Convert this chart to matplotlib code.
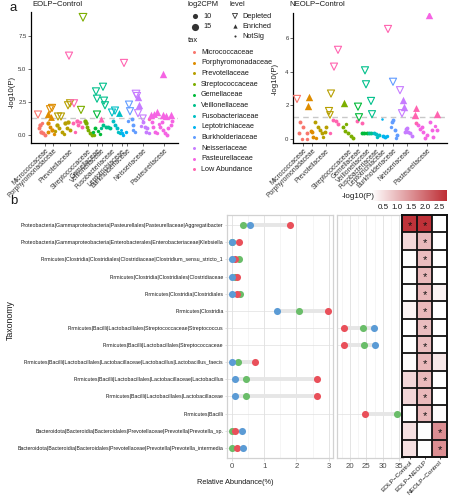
import matplotlib
matplotlib.use('Agg')
import matplotlib.pyplot as plt
import numpy as np
from matplotlib.colors import LinearSegmentedColormap, Normalize

plt.rcParams['font.family'] = ['Liberation Sans', 'DejaVu Sans']

W, H = 449, 500

# ---------------- panel a data ----------------
tax_names = ['Micrococcaceae', 'Porphyromonadaceae', 'Prevotellaceae', 'Streptococcaceae',
             'Gemellaceae', 'Veillonellaceae', 'Fusobacteriaceae', 'Leptotrichiaceae',
             'Burkholderiaceae', 'Neisseriaceae', 'Pasteurellaceae', 'Low Abundance']
tax_colors = ['#F8766D', '#DE8C00', '#B79F00', '#7CAE00', '#00BA38', '#00C08B',
              '#00BFC4', '#00B4F0', '#619CFF', '#C77CFF', '#F564E3', '#FF64B0']
level_names = ['Depleted', 'Enriched', 'NotSig']
cpm_legend = [10, 15]

# EOLP-Control
ec_pos = [7, 9, 8, 10, 12, 14, 11,
          17, 19, 21, 20, 17, 19, 21, 17, 23,
          27, 30, 37, 39, 26, 28, 31, 34, 36, 37, 39, 33, 24,
          43, 38, 42, 46, 47, 51, 44, 49,
          50, 52, 54, 55, 56, 57, 59, 61, 63,
          66, 64, 67, 69, 62,
          65, 66, 72, 73, 74, 72, 75, 77, 79, 70,
          70,
          81, 84, 88, 82, 84, 86, 87, 89,
          91, 92, 95, 90,
          98, 99, 101, 102, 102, 104, 97,
          93,
          105, 106, 107, 108, 107, 112, 112, 114, 116, 115, 110, 118,
          132, 120, 126, 132, 135, 140, 123, 121, 122, 124, 126, 129, 131, 132, 134, 136, 137, 141, 140, 128,
          118]
ec_logp = [1.55, 0.75, 0.5, 0.25, 0.15, 0.0, 0.9,
           1.6, 1.95, 2.05, 1.35, 0.9, 0.6, 0.4, 0.25, 0.1,
           1.4, 1.4, 2.25, 2.4, 0.75, 0.5, 0.2, 0.9, 0.5, 1.0, 0.4, 0.05, 0.3,
           2.4, 6.0, 0.9, 1.1, 0.75, 0.6, 0.2, 1.0,
           1.9, 8.9, 1.1, 0.9, 0.6, 0.4, 0.15, 0.0, 0.0,
           1.55, 0.5, 0.3, 0.1, 0.2,
           3.3, 2.75, 3.65, 2.6, 2.25, 0.75, 0.6, 0.6, 0.5, 0.55,
           1.25,
           1.7, 1.85, 1.7, 1.1, 0.75, 0.5, 0.25, 0.15,
           0.15, 0.0, 0.25, 0.4,
           2.3, 1.8, 1.25, 0.75, 0.4, 0.25, 1.1,
           5.45,
           3.1, 2.95, 2.85, 2.25, 1.65, 1.27, 1.0, 0.6, 0.5, 0.25, 0.7, 0.15,
           4.6, 1.55, 1.75, 1.55, 1.45, 1.55, 1.6, 1.0, 0.6, 0.25, 0.15, 0.6, 1.0, 0.4, 0.15, 0.0, 0.5, 1.1, 0.75, 0.85,
           1.2]
ec_tax = [0, 0, 0, 0, 0, 0, 0,
          1, 1, 1, 1, 1, 1, 1, 1, 1,
          2, 2, 2, 2, 2, 2, 2, 2, 2, 2, 2, 2, 2,
          11, 11, 11, 11, 11, 11, 11, 11,
          3, 3, 3, 3, 3, 3, 3, 3, 3,
          4, 4, 4, 4, 4,
          5, 5, 5, 5, 5, 5, 5, 5, 5, 5,
          11,
          6, 6, 6, 6, 6, 6, 6, 6,
          7, 7, 7, 7,
          8, 8, 8, 8, 8, 8, 8,
          11,
          9, 9, 9, 9, 9, 9, 9, 9, 9, 9, 9, 9,
          10, 10, 10, 10, 10, 10, 10, 10, 10, 10, 10, 10, 10, 10, 10, 10, 10, 10, 10, 10,
          11]
ec_level = ("DNNNNNN" "EDDENNNNN" "DDDDNNNNNNNNN" "DDNNNNNN" "DDNNNNNNN" "DNNNN"
            "DDDDDNNNNN" "E" "DDENNNNN" "NNNN" "DDNNNNN" "D" "DDEEDDNNNNNN"
            "EEEEEEENNNNNNNNNNNNN" "N")
ec_cpm = [10, 7, 6, 7, 6, 6, 5,
          10, 10, 10, 9, 7, 6, 7, 6, 5,
          10, 10, 10, 10, 7, 6, 6, 7, 6, 7, 6, 5, 5,
          10, 10, 6, 7, 6, 6, 5, 5,
          10, 11, 7, 7, 6, 6, 6, 6, 5,
          10, 6, 5, 5, 5,
          10, 10, 10, 10, 10, 6, 6, 6, 6, 5,
          8,
          10, 10, 9, 6, 6, 6, 5, 5,
          5, 5, 5, 4,
          10, 10, 6, 6, 5, 5, 5,
          10,
          11, 10, 10, 10, 10, 9, 6, 6, 6, 6, 5, 5,
          10, 10, 10, 10, 10, 10, 9, 6, 6, 6, 5, 6, 6, 6, 6, 6, 6, 6, 6, 5,
          5]
ec_tick_pos = [14, 22, 39, 57, 66, 71, 81, 91, 96, 112, 133]

# NEOLP-Control
nc_pos = [4, 7, 10, 6, 14, 9, 14,
          16, 15, 18, 19, 20, 23,
          38, 36, 37, 22, 25, 27, 29, 32, 33, 30,
          45, 41, 40, 43, 45, 37,
          51, 50, 52, 55, 58, 60, 53,
          65, 66, 69, 71, 74,
          64, 69,
          72, 73, 78, 79, 76, 78,
          81, 83, 86, 84,
          89, 90, 92, 94,
          100, 99, 100, 102, 104, 103, 98,
          95,
          107, 110, 111, 109, 114, 115, 117, 119, 112, 113,
          136, 125, 129, 130, 134, 137, 139, 140, 144, 132, 127, 142,
          123, 123, 122, 144]
nc_logp = [2.38, 1.03, 0.73, 0.34, 0.34, 0.0, 0.0,
           2.48, 1.98, 0.5, 0.4, 0.1, 0.05,
           2.7, 1.66, 1.43, 1.03, 0.73, 0.53, 0.34, 0.43, 0.69, 0.1,
           5.3, 4.3, 1.13, 1.09, 0.89, 0.34,
           2.12, 0.73, 0.5, 0.34, 0.18, 0.04, 0.9,
           1.92, 1.29, 0.38, 0.38, 0.38,
           1.09, 0.93,
           4.08, 3.25, 2.26, 1.47, 0.38, 0.34,
           0.34, 0.3, 0.24, 0.1,
           1.19, 0.18, 0.14, 0.2,
           3.4, 0.99, 1.13, 0.53, 0.24, 0.04, 0.73,
           6.54,
           2.9, 2.3, 1.92, 1.53, 0.63, 0.43, 0.34, 0.18, 0.43, 0.6,
           7.37, 0.83, 0.73, 0.43, 0.24, 1.03, 0.53, 0.14, 0.53, 0.04, 0.6, 0.8,
           0.93, 1.82, 1.43, 1.49]
nc_tax = [0, 0, 0, 0, 0, 0, 0,
          1, 1, 1, 1, 1, 1,
          2, 2, 2, 2, 2, 2, 2, 2, 2, 2,
          11, 11, 11, 11, 11, 11,
          3, 3, 3, 3, 3, 3, 3,
          4, 4, 4, 4, 4,
          11, 11,
          5, 5, 5, 5, 5, 5,
          6, 6, 6, 6,
          7, 7, 7, 7,
          8, 8, 8, 8, 8, 8, 8,
          11,
          9, 9, 9, 9, 9, 9, 9, 9, 9, 9,
          10, 10, 10, 10, 10, 10, 10, 10, 10, 10, 10, 10,
          11, 11, 11, 11]
nc_level = ("DNNNNNN" "EENNNN" "DDDNNNNNNN" "DDNNNN" "ENNNNNN" "DDNNN" "NN" "DDDDNN"
            "NNNN" "NNNN" "DNNNNNN" "D" "DEEDNNNNNN" "ENNNNNNNNNNN" "NEEE")
nc_cpm = [10, 6, 6, 6, 6, 5, 5,
          10, 10, 6, 6, 6, 5,
          10, 10, 9, 6, 6, 6, 6, 6, 6, 5,
          10, 10, 6, 6, 6, 5,
          10, 6, 6, 6, 6, 6, 5,
          10, 10, 6, 6, 6,
          6, 6,
          10, 10, 10, 10, 6, 6,
          6, 6, 6, 5,
          3, 6, 6, 5,
          10, 6, 6, 6, 6, 5, 5,
          10,
          10, 10, 10, 10, 6, 6, 6, 6, 6, 6,
          10, 6, 6, 6, 6, 6, 6, 6, 6, 6, 6, 5,
          6, 9, 10, 10]
nc_tick_pos = [10, 19, 33, 56, 65, 75, 83, 90, 100, 114, 134]

# ---------------- panel b data ----------------
taxonomy = [
    'Proteobacteria|Gammaproteobacteria|Pasteurellales|Pasteurellaceae|Aggregatibacter',
    'Proteobacteria|Gammaproteobacteria|Enterobacterales|Enterobacteriaceae|Klebsiella',
    'Firmicutes|Clostridia|Clostridiales|Clostridiaceae|Clostridium_sensu_stricto_1',
    'Firmicutes|Clostridia|Clostridiales|Clostridiaceae',
    'Firmicutes|Clostridia|Clostridiales',
    'Firmicutes|Clostridia',
    'Firmicutes|Bacilli|Lactobacillales|Streptococcaceae|Streptococcus',
    'Firmicutes|Bacilli|Lactobacillales|Streptococcaceae',
    'Firmicutes|Bacilli|Lactobacillales|Lactobacillaceae|Lactobacillus|Lactobacillus_faecis',
    'Firmicutes|Bacilli|Lactobacillales|Lactobacillaceae|Lactobacillus',
    'Firmicutes|Bacilli|Lactobacillales|Lactobacillaceae',
    'Firmicutes|Bacilli',
    'Bacteroidota|Bacteroidia|Bacteroidales|Prevotellaceae|Prevotella|Prevotella_sp.',
    'Bacteroidota|Bacteroidia|Bacteroidales|Prevotellaceae|Prevotella|Prevotella_intermedia']
abund_control = [0.35, 0.0, 0.22, 0.10, 0.24, 2.09, 24.1, 24.3, 0.18, 0.43, 0.43, 34.5, 0.01, 0.01]
abund_eolp = [1.80, 0.23, 0.10, 0.17, 0.15, 2.98, 18.2, 18.2, 0.71, 2.63, 2.63, 24.6, 0.10, 0.17]
abund_neolp = [0.56, 0.02, 0.01, 0.01, 0.01, 1.40, 27.4, 27.6, 0.0, 0.10, 0.10, 36.5, 0.32, 0.35]

comparisons = ['EOLP\u2212Control', 'EOLP\u2212NEOLP', 'NEOLP\u2212Control']
p_eolp_ctrl = [2.72, 0.6, 0.12, 0.12, 0.12, 0.25, 0.1, 0.12, 0.14, 0.62, 0.62, 0.1, 0.5, 0.5]
p_eolp_neolp = [2.75, 1.0, 0.95, 1.0, 1.0, 1.0, 0.95, 0.95, 1.0, 1.0, 1.0, 1.0, 0.12, 0.12]
p_neolp_ctrl = [0.1, 0.1, 0.1, 0.1, 0.25, 0.1, 0.1, 0.1, 0.4, 0.1, 0.1, 0.15, 1.55, 1.55]
sig_eolp_ctrl = [1, 0, 0, 0, 0, 0, 0, 0, 0, 0, 0, 0, 0, 0]
sig_eolp_neolp = [1, 1, 1, 1, 1, 1, 1, 1, 1, 1, 1, 1, 0, 0]
sig_neolp_ctrl = [0, 0, 0, 0, 0, 0, 0, 0, 0, 0, 0, 0, 1, 1]
cbar_ticks = [0.5, 1.0, 1.5, 2.0, 2.5]

GREEN, RED, BLUE = '#6ABD69', '#E9505A', '#5B9BD5'

# ---------------- helpers ----------------
fig = plt.figure(figsize=(W / 100, H / 100), dpi=100)


def rect(l, t, r, b):
    return [l / W, 1 - b / H, (r - l) / W, (b - t) / H]


def ftxt(x, y, s, **kw):
    kw.setdefault('ha', 'left')
    kw.setdefault('va', 'center')
    kw.setdefault('color', '#1A1A1A')
    return fig.text(x / W, 1 - y / H, s, **kw)


def dot_pt(c):
    return (0.45 * c + 1.2) * 0.72


def volcano(ax, pos, logp, tax, level, cpm, ylim, yticks, yticklabels, xmax, tickpos):
    assert len(pos) == len(logp) == len(tax) == len(level) == len(cpm)
    ax.set_xlim(0, xmax)
    ax.set_ylim(*ylim)
    ax.axhline(1.3, color='#C8C8C8', lw=1.0, ls=(0, (4, 3)), zorder=1)
    for p, v, t, l, c in zip(pos, logp, tax, level, cpm):
        col = tax_colors[t]
        d = dot_pt(c)
        if l == 'N':
            ax.scatter(p, v, s=d ** 2, color=col, lw=0, zorder=2)
        elif l == 'E':
            ax.scatter(p, v, s=(d * 1.3) ** 2, marker='^', color=col, lw=0, zorder=3)
        else:
            ax.scatter(p, v, s=(d * 1.25) ** 2, marker='v', facecolor='none',
                       edgecolor=col, lw=0.8, zorder=3)
    for s in ['top', 'right']:
        ax.spines[s].set_visible(False)
    for s in ['left', 'bottom']:
        ax.spines[s].set_color('black')
        ax.spines[s].set_linewidth(0.9)
    ax.set_yticks(yticks)
    ax.set_yticklabels(yticklabels)
    ax.set_xticks(tickpos)
    ax.set_xticklabels(tax_names[:11], rotation=45, ha='right', va='top',
                       rotation_mode='anchor', fontsize=4.9, color='#1A1A1A')
    ax.tick_params(axis='y', labelsize=4.3, length=2, width=0.5, pad=1.2, colors='#333333')
    ax.tick_params(axis='x', length=2, width=0.5, pad=1.2, colors='#333333')
    ax.patch.set_alpha(0)


# ---------------- panel a ----------------
axL = fig.add_axes(rect(31, 12, 178, 143))
volcano(axL, ec_pos, ec_logp, ec_tax, ec_level, ec_cpm, (-0.6, 9.3),
        [0, 2.5, 5.0, 7.5], ['0.0', '2.5', '5.0', '7.5'], 147, ec_tick_pos)
axR = fig.add_axes(rect(293, 13, 447, 143))
volcano(axR, nc_pos, nc_logp, nc_tax, nc_level, nc_cpm, (-0.24, 7.49),
        [0, 2, 4, 6], ['0', '2', '4', '6'], 154, nc_tick_pos)

ftxt(10, 8, 'a', fontsize=9.5)
ftxt(32, 5, 'EOLP\u2212Control', fontsize=5.6)
ftxt(289, 5, 'NEOLP\u2212Control', fontsize=5.6)
ftxt(12, 92, '-log10(P)', rotation=90, ha='center', fontsize=5.6)
ftxt(275, 79, '-log10(P)', rotation=90, ha='center', fontsize=5.6)

axO = fig.add_axes([0, 0, 1, 1])
axO.set_xlim(0, W)
axO.set_ylim(H, 0)
axO.axis('off')

# size legend
ftxt(188, 5, 'log2CPM', fontsize=5.4)
for k, c in enumerate(cpm_legend):
    yy = 16 + 11 * k
    axO.scatter(195, yy, s=(0.9 * dot_pt(c)) ** 2, color='#333333', lw=0)
    ftxt(203, yy, str(c), fontsize=5.3)
# level legend
ftxt(230, 4, 'level', fontsize=5.4)
axO.scatter(235, 16, s=(dot_pt(6) * 1.3) ** 2, marker='v', facecolor='none', edgecolor='#333333', lw=0.6)
axO.scatter(235, 26, s=(dot_pt(6) * 1.1) ** 2, marker='^', color='#333333', lw=0)
axO.scatter(235, 36, s=dot_pt(2) ** 2, color='#333333', lw=0)
for k, nm in enumerate(level_names):
    ftxt(242, 16 + 10 * k, nm, fontsize=5.3)
# tax legend
ftxt(188, 41, 'tax', fontsize=5.4)
for k, nm in enumerate(tax_names):
    yy = 52 + 10.67 * k
    axO.scatter(194, yy, s=dot_pt(4) ** 2, color=tax_colors[k], lw=0)
    ftxt(201, yy, nm, fontsize=5.2)

# ---------------- panel b ----------------
n = len(taxonomy)
ftxt(10, 201, 'b', fontsize=9.5)


def lolli(ax, lo, hi, major, minor):
    ax.set_xlim(lo, hi)
    ax.set_ylim(n - 1 + 0.6, -0.6)
    ax.set_xticks(major)
    ax.set_xticks(minor, minor=True)
    ax.grid(axis='x', which='major', color='#E4E4E4', lw=0.7)
    ax.grid(axis='x', which='minor', color='#F0F0F0', lw=0.45)
    ax.set_axisbelow(True)
    for sp in ax.spines.values():
        sp.set_color('#D2D2D2')
        sp.set_linewidth(0.9)
    for i in range(n):
        vals = [abund_control[i], abund_eolp[i], abund_neolp[i]]
        mn, mx = min(vals), max(vals)
        ax.plot([lo, mn], [i, i], color='#E0E0E0', lw=0.5, zorder=1)
        ax.plot([mn, mx], [i, i], color='#E6E6E6', lw=2.8, solid_capstyle='butt', zorder=1)
    for vals, col in [(abund_control, GREEN), (abund_eolp, RED), (abund_neolp, BLUE)]:
        ax.scatter(vals, range(n), s=26, color=col, lw=0, zorder=3)
    ax.tick_params(axis='x', which='major', labelsize=5.6, length=2, width=0.5,
                   colors='#D2D2D2', labelcolor='#4D4D4D', pad=1.5)
    ax.tick_params(axis='x', which='minor', length=0)


axB1 = fig.add_axes(rect(227, 215, 333, 458))
lolli(axB1, -0.15, 3.13, [0, 1, 2, 3], [0.5, 1.5, 2.5])
axB1.set_yticks(range(n))
axB1.set_yticklabels(taxonomy, fontsize=3.8, color='#1A1A1A')
axB1.tick_params(axis='y', length=1.5, width=0.5, colors='#D2D2D2', labelcolor='#1A1A1A', pad=1)

axB2 = fig.add_axes(rect(337, 215, 403, 458))
lolli(axB2, 16, 36.2, [20, 25, 30, 35], [17.5, 22.5, 27.5, 32.5])
axB2.set_yticks([])

ftxt(10, 320, 'Taxonomy', rotation=90, ha='center', fontsize=6.3)
ftxt(235, 482, 'Relative Abundance(%)', ha='center', fontsize=5.3)

# heatmap
cmap = LinearSegmentedColormap.from_list('wr', ['#FFFFFF', '#BE2E35'])
norm = Normalize(vmin=0.1, vmax=2.8, clip=True)
hm = np.array([p_eolp_ctrl, p_eolp_neolp, p_neolp_ctrl]).T
sig = np.array([sig_eolp_ctrl, sig_eolp_neolp, sig_neolp_ctrl]).T
axH = fig.add_axes(rect(402, 215, 447, 457))
axH.imshow(hm, cmap=cmap, norm=norm, aspect='auto', interpolation='nearest')
axH.set_xlim(-0.5, 2.5)
axH.set_ylim(n - 0.5, -0.5)
for j in range(1, 3):
    axH.axvline(j - 0.5, color='#111111', lw=1.3)
for i in range(1, n):
    axH.axhline(i - 0.5, color='#111111', lw=1.3)
for sp in axH.spines.values():
    sp.set_color('#111111')
    sp.set_linewidth(1.4)
for i in range(n):
    for j in range(3):
        if sig[i, j]:
            axH.text(j, i + 0.12, '*', ha='center', va='center', fontsize=8, color='#111111')
axH.set_yticks([])
axH.set_xticks(range(3))
axH.set_xticklabels(comparisons, rotation=45, ha='right', va='top', rotation_mode='anchor',
                    fontsize=4.6, color='#1A1A1A')
axH.tick_params(axis='x', length=1.2, width=0.5, pad=0.8)

# colorbar
axC = fig.add_axes(rect(372, 190, 447, 201))
grad = np.linspace(0.11, 2.79, 256)[None, :]
axC.imshow(grad, cmap=cmap, norm=norm, aspect='auto', extent=[0.11, 2.79, 0, 1])
axC.set_xlim(0.11, 2.79)
axC.set_yticks([])
axC.set_xticks(cbar_ticks)
axC.set_xticklabels(['%.1f' % t for t in cbar_ticks])
axC.tick_params(axis='x', length=0, labelsize=5.8, pad=2, labelcolor='#1A1A1A')
for sp in axC.spines.values():
    sp.set_visible(False)
ftxt(358, 197, '-log10(P)', ha='center', fontsize=5.8)

fig.savefig('out.png', dpi=100)
